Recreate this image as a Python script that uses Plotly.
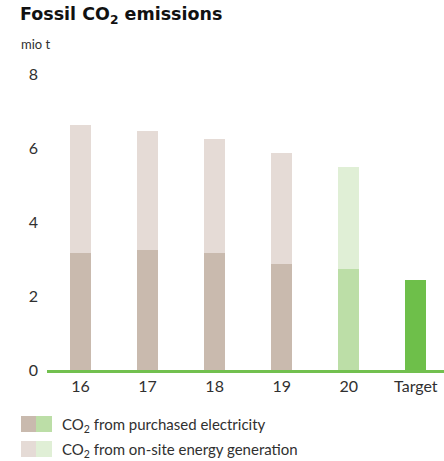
import plotly.graph_objects as go

# Fossil CO2 emissions, mio t
years = ["16", "17", "18", "19", "20", "Target"]
purchased = [3.17, 3.24, 3.16, 2.86, 2.73, 2.43]
onsite = [3.45, 3.22, 3.08, 3.00, 2.76, 0.0]
y_ticks = [0, 2, 4, 6, 8]

BROWN_DARK = "#c9baae"
BROWN_LIGHT = "#e5dbd6"
GREEN_DARK = "#bcdea7"
GREEN_LIGHT = "#e0efd6"
TARGET_GREEN = "#6ebf4a"
AXIS_GREEN = "#72c04f"
FONT = "Lato, 'Noto Sans', sans-serif"
TITLE_FONT = "'DejaVu Sans', sans-serif"
TEXT = "#303030"

dark_colors = [BROWN_DARK] * 4 + [GREEN_DARK, TARGET_GREEN]
light_colors = [BROWN_LIGHT] * 4 + [GREEN_LIGHT, GREEN_LIGHT]

fig = go.Figure()
fig.add_trace(go.Bar(x=years, y=purchased, marker=dict(color=dark_colors, line=dict(width=0)),
                     width=0.31, hoverinfo="skip", showlegend=False))
fig.add_trace(go.Bar(x=years, y=onsite, marker=dict(color=light_colors, line=dict(width=0)),
                     width=0.31, hoverinfo="skip", showlegend=False))

tick_font = dict(size=16, color=TEXT, family=FONT)

fig.update_layout(
    barmode="stack",
    width=444, height=461,
    margin=dict(l=47, r=0, t=74, b=91),
    plot_bgcolor="white", paper_bgcolor="white",
    font=dict(family=FONT, color=TEXT, size=16),
    xaxis=dict(range=[-0.5, 5.42], showline=True, linecolor=AXIS_GREEN, linewidth=3,
               showgrid=False, ticks="", tickfont=tick_font, ticklabelstandoff=0),
    yaxis=dict(range=[0, 8], tickvals=y_ticks, showgrid=False, zeroline=False,
               showline=False, ticks="", tickfont=tick_font, ticklabelstandoff=8),
)

def px_x(px):
    return (px - 47) / 397

def px_y(py):
    return (370 - py) / 296

# Title and unit
fig.add_annotation(text="<b>Fossil CO<sub>2</sub> emissions</b>", xref="paper", yref="paper",
                   x=px_x(18), y=px_y(16), xanchor="left", yanchor="middle",
                   showarrow=False, font=dict(size=17.5, color="#111111", family=TITLE_FONT))
fig.add_annotation(text="mio t", xref="paper", yref="paper",
                   x=px_x(19), y=px_y(44), xanchor="left", yanchor="middle",
                   showarrow=False, font=dict(size=13, color=TEXT, family=FONT))

# Legend: two-colour swatches with labels
legend_rows = [
    (416, BROWN_DARK, GREEN_DARK, "CO<sub>2</sub> from purchased electricity"),
    (441, BROWN_LIGHT, GREEN_LIGHT, "CO<sub>2</sub> from on-site energy generation"),
]
for top, c1, c2, label in legend_rows:
    fig.add_shape(type="rect", xref="paper", yref="paper", x0=px_x(21), x1=px_x(36),
                  y0=px_y(top + 16), y1=px_y(top), fillcolor=c1, line=dict(width=0))
    fig.add_shape(type="rect", xref="paper", yref="paper", x0=px_x(36), x1=px_x(52),
                  y0=px_y(top + 16), y1=px_y(top), fillcolor=c2, line=dict(width=0))
    fig.add_annotation(text=label, xref="paper", yref="paper", x=px_x(60), y=px_y(top + 9),
                       xanchor="left", yanchor="middle", showarrow=False,
                       font=dict(size=15, color=TEXT, family=FONT))

fig.write_html("out.html", config={"displayModeBar": False})
